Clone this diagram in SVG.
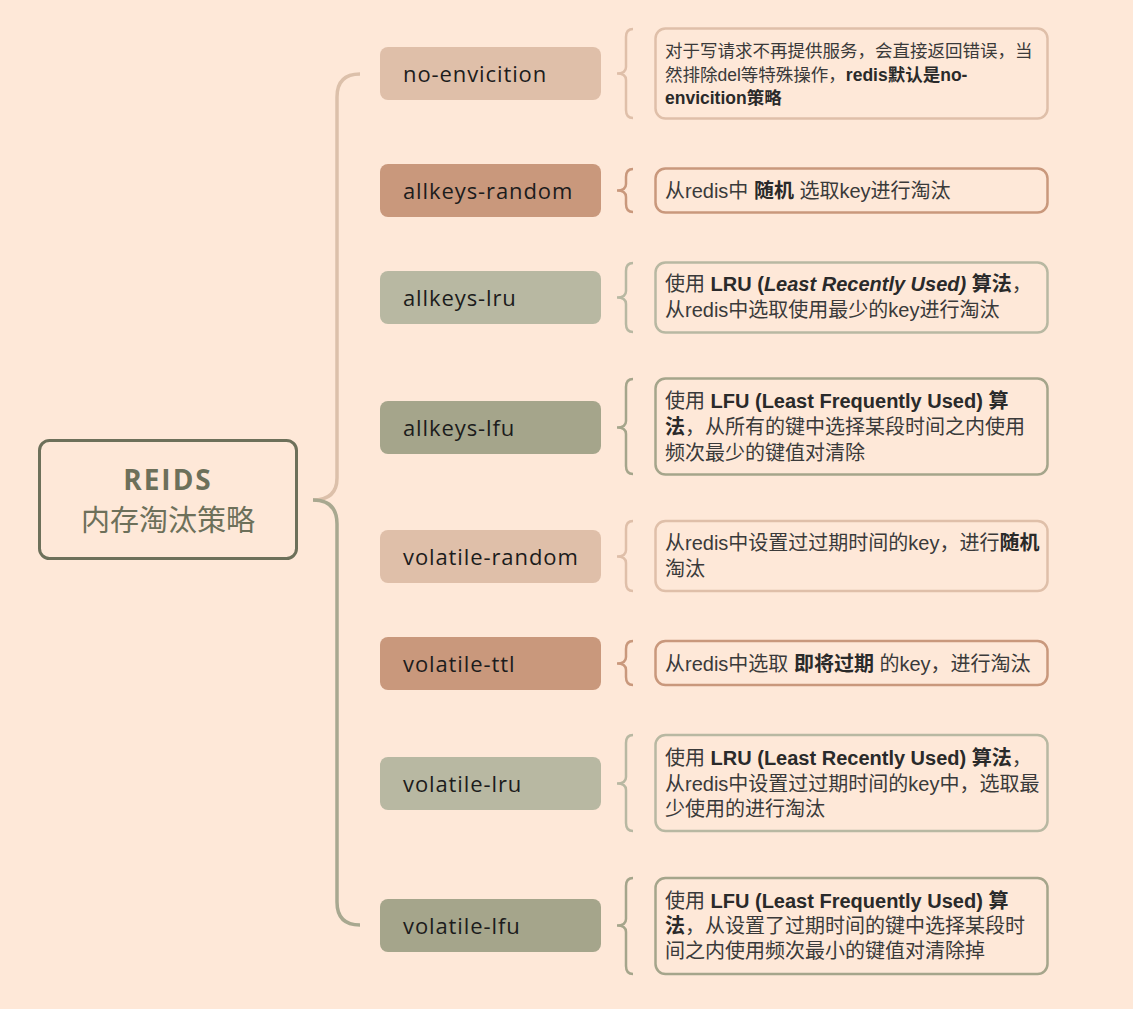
<svg xmlns="http://www.w3.org/2000/svg" width="1133" height="1009" viewBox="0 0 1133 1009">
<style>
.bg{fill:#fee8d8}
.node rect{stroke:none}
.lbl{font-family:"Open Sans","Noto Sans",sans-serif;font-size:22px;fill:#1c1c1c;letter-spacing:0.9px}
.desc{font-family:"Liberation Sans","Noto Sans CJK SC",sans-serif;font-size:20px;fill:#3a3a3a}
.d1{font-size:17.5px}
.b{font-weight:bold;fill:#2a2a2a}
.i{font-style:italic}
.box{fill:#fee8d8;stroke-width:2.5}
.br{fill:none;stroke-width:2.5}
.c1{fill:#dfbfa9}.s1{stroke:#dfbfa9}
.c2{fill:#c9987c}.s2{stroke:#c9987c}
.c3{fill:#b8b8a2}.s3{stroke:#b8b8a2}
.c4{fill:#a5a58b}.s4{stroke:#a5a58b}
</style>
<rect class="bg" x="0" y="0" width="1133" height="1009"/>
<g id="connectors">
<path d="M360,74 Q337,74 337,97 L337,478 Q337,500 313,500" fill="none" stroke="#dcc0aa" stroke-width="3.5"/>
<path d="M313,500 Q337,500 337,524 L337,902 Q337,925 360,925" fill="none" stroke="#a8a890" stroke-width="3.5"/>
<path class="br s1" d="M633,29 Q626,29 626,37 L626,67 Q626,73.5 617,73.5 Q626,73.5 626,80 L626,110 Q626,118 633,118"/>
<path class="br s2" d="M633,169 Q626,169 626,177 L626,184 Q626,190.5 617,190.5 Q626,190.5 626,197 L626,204 Q626,212 633,212"/>
<path class="br s3" d="M633,263 Q626,263 626,271 L626,291 Q626,297.5 617,297.5 Q626,297.5 626,304 L626,324 Q626,332 633,332"/>
<path class="br s4" d="M633,379 Q626,379 626,387 L626,421 Q626,427.5 617,427.5 Q626,427.5 626,434 L626,466 Q626,474 633,474"/>
<path class="br s1" d="M633,521 Q626,521 626,529 L626,550 Q626,556.5 617,556.5 Q626,556.5 626,563 L626,583 Q626,591 633,591"/>
<path class="br s2" d="M633,641 Q626,641 626,649 L626,657 Q626,663.5 617,663.5 Q626,663.5 626,670 L626,677 Q626,685 633,685"/>
<path class="br s3" d="M633,735 Q626,735 626,743 L626,777 Q626,783.5 617,783.5 Q626,783.5 626,790 L626,823 Q626,831 633,831"/>
<path class="br s4" d="M633,878 Q626,878 626,886 L626,919 Q626,925.5 617,925.5 Q626,925.5 626,932 L626,966 Q626,974 633,974"/>
</g>
<g id="root">
<rect x="39.5" y="440.5" width="257" height="118" rx="10" fill="#fee8d8" stroke="#6d705a" stroke-width="3"/>
<text x="168" y="490" text-anchor="middle" font-family="'Open Sans','Noto Sans',sans-serif" font-size="28" font-weight="bold" letter-spacing="2" fill="#6d705a">REIDS</text>
<text x="168" y="531" text-anchor="middle" font-family="'Noto Sans CJK SC',sans-serif" font-size="29" fill="#6d705a">内存淘汰策略</text>
</g>
<g id="n1" class="node"><rect class="c1" x="380" y="47" width="221" height="53" rx="8"/><text class="lbl" x="403" y="82">no-envicition</text></g>
<g id="n2" class="node"><rect class="c2" x="380" y="164" width="221" height="53" rx="8"/><text class="lbl" x="403" y="199">allkeys-random</text></g>
<g id="n3" class="node"><rect class="c3" x="380" y="271" width="221" height="53" rx="8"/><text class="lbl" x="403" y="306">allkeys-lru</text></g>
<g id="n4" class="node"><rect class="c4" x="380" y="401" width="221" height="53" rx="8"/><text class="lbl" x="403" y="436">allkeys-lfu</text></g>
<g id="n5" class="node"><rect class="c1" x="380" y="530" width="221" height="53" rx="8"/><text class="lbl" x="403" y="565">volatile-random</text></g>
<g id="n6" class="node"><rect class="c2" x="380" y="637" width="221" height="53" rx="8"/><text class="lbl" x="403" y="672">volatile-ttl</text></g>
<g id="n7" class="node"><rect class="c3" x="380" y="757" width="221" height="53" rx="8"/><text class="lbl" x="403" y="792">volatile-lru</text></g>
<g id="n8" class="node"><rect class="c4" x="380" y="899" width="221" height="53" rx="8"/><text class="lbl" x="403" y="934">volatile-lfu</text></g>
<g id="d1"><rect class="box s1" x="655.5" y="28.5" width="392" height="90" rx="10"/>
<text class="desc d1" x="665" y="57">对于写请求不再提供服务，会直接返回错误，当</text>
<text class="desc d1" x="665" y="81">然排除del等特殊操作，<tspan class="b">redis默认是no-</tspan></text>
<text class="desc d1 b" x="665" y="104">envicition策略</text></g>
<g id="d2"><rect class="box s2" x="655.5" y="168.5" width="392" height="44" rx="10"/>
<text class="desc" x="665" y="198">从redis中 <tspan class="b">随机</tspan> 选取key进行淘汰</text></g>
<g id="d3"><rect class="box s3" x="655.5" y="262.5" width="392" height="70" rx="10"/>
<text class="desc" x="665" y="291">使用 <tspan class="b">LRU (</tspan><tspan class="b i">Least Recently Used)</tspan><tspan class="b"> 算法</tspan>，</text>
<text class="desc" x="665" y="317">从redis中选取使用最少的key进行淘汰</text></g>
<g id="d4"><rect class="box s4" x="655.5" y="378.5" width="392" height="96" rx="10"/>
<text class="desc" x="665" y="408">使用 <tspan class="b">LFU (Least Frequently Used) 算</tspan></text>
<text class="desc" x="665" y="434"><tspan class="b">法</tspan>，从所有的键中选择某段时间之内使用</text>
<text class="desc" x="665" y="460">频次最少的键值对清除</text></g>
<g id="d5"><rect class="box s1" x="655.5" y="521" width="392" height="70" rx="10"/>
<text class="desc" x="665" y="550">从redis中设置过过期时间的key，进行<tspan class="b">随机</tspan></text>
<text class="desc" x="665" y="576">淘汰</text></g>
<g id="d6"><rect class="box s2" x="655.5" y="641" width="392" height="44" rx="10"/>
<text class="desc" x="665" y="671">从redis中选取 <tspan class="b">即将过期</tspan> 的key，进行淘汰</text></g>
<g id="d7"><rect class="box s3" x="655.5" y="735" width="392" height="96" rx="10"/>
<text class="desc" x="665" y="765">使用 <tspan class="b">LRU (Least Recently Used) 算法</tspan>，</text>
<text class="desc" x="665" y="791">从redis中设置过过期时间的key中，选取最</text>
<text class="desc" x="665" y="816">少使用的进行淘汰</text></g>
<g id="d8"><rect class="box s4" x="655.5" y="878" width="392" height="96" rx="10"/>
<text class="desc" x="665" y="908">使用 <tspan class="b">LFU (Least Frequently Used) 算</tspan></text>
<text class="desc" x="665" y="933"><tspan class="b">法</tspan>，从设置了过期时间的键中选择某段时</text>
<text class="desc" x="665" y="958">间之内使用频次最小的键值对清除掉</text></g>
</svg>
